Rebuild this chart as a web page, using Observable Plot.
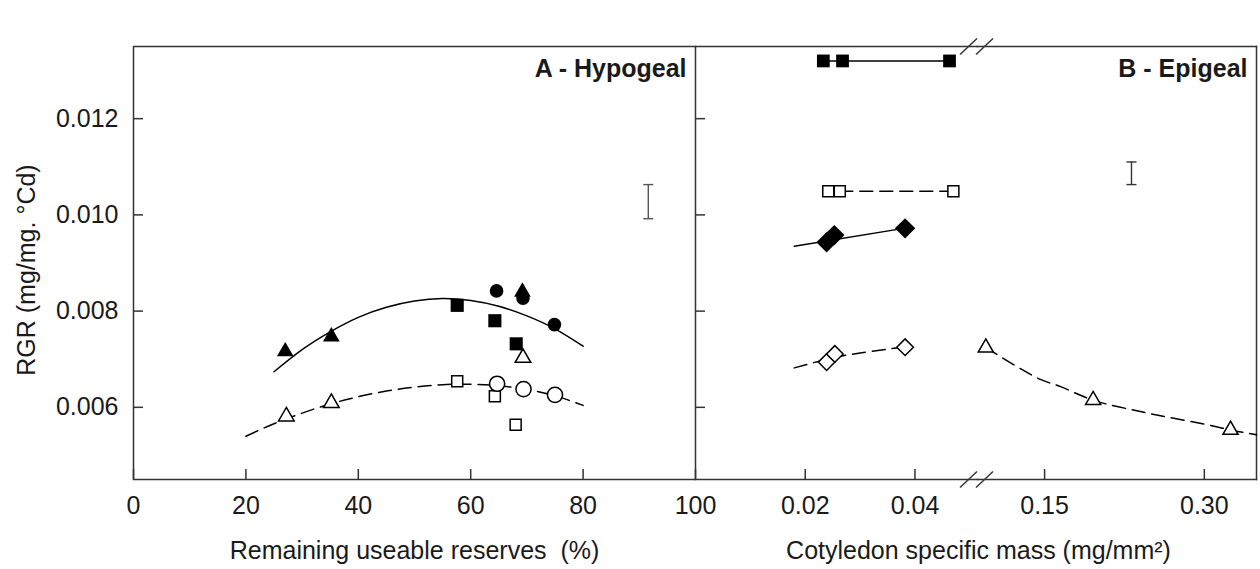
<!DOCTYPE html>
<html>
<head>
<meta charset="utf-8">
<script src="https://cdn.jsdelivr.net/npm/d3@7"></script>
<script src="https://cdn.jsdelivr.net/npm/@observablehq/plot@0.6"></script>
<style>
html, body { margin: 0; padding: 0; background: #fff; }
#chart { position: relative; width: 1260px; height: 569px; background: #fff; overflow: hidden; }
#chart svg { position: absolute; top: 0; }
</style>
</head>
<body>
<div id="chart"></div>
<script>
// ---------- scales / ticks ----------
const yDomain = [0.0045, 0.0135];
const yTicks = [0.006, 0.008, 0.010, 0.012];
const xDomainA = [0, 100];
const xTicksA = [0, 20, 40, 60, 80, 100];
const xDomainB1 = [0, 0.0514];
const xTicksB1 = [0.02, 0.04];
const xDomainB2 = [0.087, 0.349];
const xTicksB2 = [0.15, 0.30];

// ---------- labels ----------
const yTitle = "RGR (mg/mg. °Cd)";
const xTitleA = "Remaining useable reserves  (%)";
const xTitleB = "Cotyledon specific mass (mg/mm²)";
const panelA = "A - Hypogeal";
const panelB = "B - Epigeal";

// ---------- Panel A (hypogeal) ----------
const hypoFilledTriangles = [{x: 27.0, y: 0.00716}, {x: 35.2, y: 0.00747}, {x: 69.2, y: 0.00840}];
const hypoFilledSquares   = [{x: 57.6, y: 0.00812}, {x: 64.3, y: 0.00780}, {x: 68.1, y: 0.00732}];
const hypoFilledCircles   = [{x: 64.6, y: 0.00842}, {x: 69.3, y: 0.00827}, {x: 74.9, y: 0.00772}];
const hypoOpenTriangles   = [{x: 27.2, y: 0.00581}, {x: 35.2, y: 0.00609}, {x: 69.3, y: 0.00703}];
const hypoOpenSquares     = [{x: 57.6, y: 0.00654}, {x: 64.3, y: 0.00623}, {x: 68.0, y: 0.00564}];
const hypoOpenCircles     = [{x: 64.7, y: 0.00649}, {x: 69.4, y: 0.00638}, {x: 75.0, y: 0.00626}];

const hypoFitSolidX = [25, 30, 35, 40, 45, 50, 55, 60, 65, 70, 75, 80];
const hypoFitSolidY = [0.00674, 0.00720, 0.00757, 0.00787, 0.00808, 0.00821, 0.00826, 0.00822, 0.00810, 0.00790, 0.00763, 0.00727];
const hypoFitDashX = [20, 25, 30, 35, 40, 45, 50, 55, 60, 65, 70, 75, 80];
const hypoFitDashY = [0.00540, 0.00566, 0.00588, 0.00607, 0.00622, 0.00634, 0.00642, 0.00647, 0.00648, 0.00645, 0.00637, 0.00624, 0.00604];

const errA = [{x: 91.6, lo: 0.00992, hi: 0.01063}];

// ---------- Panel B (epigeal) ----------
const epiFilledSquares  = [{x: 0.0233, y: 0.0132}, {x: 0.0268, y: 0.0132}, {x: 0.0463, y: 0.0132}];
const epiFilledSquaresFitX = [0.0233, 0.0463];
const epiFilledSquaresFitY = [0.0132, 0.0132];
const epiOpenSquares    = [{x: 0.0242, y: 0.01049}, {x: 0.0263, y: 0.01049}, {x: 0.0470, y: 0.01049}];
const epiOpenSquaresFitX = [0.0263, 0.0470];
const epiOpenSquaresFitY = [0.01049, 0.01049];
const epiFilledDiamonds = [{x: 0.0239, y: 0.00943}, {x: 0.0253, y: 0.00958}, {x: 0.0382, y: 0.00972}];
const epiFilledDiamondsFitX = [0.0180, 0.0385];
const epiFilledDiamondsFitY = [0.00935, 0.00973];
const epiOpenDiamonds   = [{x: 0.0239, y: 0.00694}, {x: 0.0254, y: 0.00711}, {x: 0.0382, y: 0.00725}];
const epiOpenDiamondsFitX = [0.0180, 0.0240, 0.0300, 0.0392];
const epiOpenDiamondsFitY = [0.00682, 0.00700, 0.00713, 0.00727];
const epiOpenTriangles  = [{x: 0.0948, y: 0.00724}, {x: 0.1956, y: 0.00615}, {x: 0.3246, y: 0.00553}];
const epiTriFitX = [0.0948, 0.120, 0.146, 0.165, 0.1956, 0.230, 0.260, 0.300, 0.3246, 0.349];
const epiTriFitY = [0.00724, 0.00690, 0.00658, 0.00643, 0.00615, 0.00596, 0.00582, 0.00565, 0.00553, 0.00543];

const errB = [{x: 0.2316, lo: 0.01063, hi: 0.01110}];

// ---------- helpers ----------
const ink = "#1a1a1a";
const frameInk = "#333";
const FONT = "'Liberation Sans', Arial, Helvetica, sans-serif";
const zip = (xs, ys) => xs.map((x, i) => ({x, y: ys[i]}));
const capSymbol = {draw(ctx) { ctx.moveTo(-5, 0); ctx.lineTo(5, 0); }};
const slashSymbol = {draw(ctx) { ctx.moveTo(-8.5, 8); ctx.lineTo(8.5, -8); }};

const base = (width, marginLeft, marginRight) => ({
  width, height: 569,
  marginTop: 46, marginBottom: 90, marginLeft, marginRight,
  y: {domain: yDomain, axis: null},
  style: {background: "transparent", overflow: "visible", fontFamily: FONT, fontSize: "25px", color: ink}
});

const filled = (data, symbol, r) => Plot.dot(data, {x: "x", y: "y", symbol, r, fill: "black", stroke: "none"});
const open = (data, symbol, r) => Plot.dot(data, {x: "x", y: "y", symbol, r, fill: "white", stroke: "black", strokeWidth: 1.5});
const solid = (xs, ys) => Plot.line(zip(xs, ys), {x: "x", y: "y", stroke: "black", strokeWidth: 1.5, curve: "natural"});
const dashed = (xs, ys) => Plot.line(zip(xs, ys), {x: "x", y: "y", stroke: "black", strokeWidth: 1.5, strokeDasharray: "13,7", curve: "natural"});
const errorBar = (data, color) => [
  Plot.ruleX(data, {x: "x", y1: "lo", y2: "hi", stroke: color, strokeWidth: 1.4}),
  Plot.dot(data, {x: "x", y: "lo", symbol: capSymbol, fill: "none", stroke: color, strokeWidth: 1.4}),
  Plot.dot(data, {x: "x", y: "hi", symbol: capSymbol, fill: "none", stroke: color, strokeWidth: 1.4})
];

// ---------- Panel A ----------
const plotA = Plot.plot({
  ...base(695, 133, 0),
  x: {domain: xDomainA},
  marks: [
    Plot.frame({stroke: frameInk, strokeWidth: 1.5}),
    Plot.axisX({ticks: xTicksA, tickSize: -10, tickPadding: 27, fontSize: 25, label: null, stroke: frameInk, strokeWidth: 1.5, fill: ink}),
    Plot.axisY({ticks: yTicks, tickSize: -10, tickPadding: 25, tickFormat: ".3f", fontSize: 25, label: null, stroke: frameInk, strokeWidth: 1.5, fill: ink}),
    Plot.text([yTitle], {frameAnchor: "left", rotate: -90, textAnchor: "middle", lineAnchor: "middle", dx: -107, dy: 7, fontSize: 25, fill: ink}),
    Plot.text([xTitleA], {frameAnchor: "bottom", dy: 71, lineAnchor: "middle", textAnchor: "middle", fontSize: 25, fill: ink}),
    Plot.text([panelA], {frameAnchor: "top-right", dx: -9, dy: 22, lineAnchor: "middle", textAnchor: "end", fontSize: 25, fontWeight: "bold", fill: ink}),
    solid(hypoFitSolidX, hypoFitSolidY),
    dashed(hypoFitDashX, hypoFitDashY),
    ...errorBar(errA, "#555"),
    filled(hypoFilledSquares, "square", 7.4),
    filled(hypoFilledTriangles, "triangle", 6.2),
    filled(hypoFilledCircles, "circle", 6.8),
    open(hypoOpenTriangles, "triangle", 5.8),
    open(hypoOpenSquares, "square", 6.2),
    open(hypoOpenCircles, "circle", 7.6)
  ]
});

// ---------- Panel B, first segment ----------
const plotB1 = Plot.plot({
  ...base(282, 0, 0),
  x: {domain: xDomainB1},
  marks: [
    Plot.frame({anchor: "top", stroke: frameInk, strokeWidth: 1.5}),
    Plot.frame({anchor: "bottom", stroke: frameInk, strokeWidth: 1.5}),
    Plot.axisX({ticks: xTicksB1, tickSize: -10, tickPadding: 27, tickFormat: ".2f", fontSize: 25, label: null, stroke: frameInk, strokeWidth: 1.5, fill: ink}),
    Plot.axisY({ticks: yTicks, tickSize: -10, tickFormat: () => "", label: null, stroke: frameInk, strokeWidth: 1.5}),
    Plot.text([xTitleB], {frameAnchor: "bottom-left", dx: 283, dy: 71, lineAnchor: "middle", textAnchor: "middle", fontSize: 25, fill: ink}),
    Plot.dot(yDomain, {x: xDomainB1[1], y: d => d, dx: -9, symbol: slashSymbol, fill: "none", stroke: frameInk, strokeWidth: 1.4}),
    Plot.dot(yDomain, {x: xDomainB1[1], y: d => d, dx: 7, symbol: slashSymbol, fill: "none", stroke: frameInk, strokeWidth: 1.4}),
    solid(epiFilledSquaresFitX, epiFilledSquaresFitY),
    dashed(epiOpenSquaresFitX, epiOpenSquaresFitY),
    solid(epiFilledDiamondsFitX, epiFilledDiamondsFitY),
    dashed(epiOpenDiamondsFitX, epiOpenDiamondsFitY),
    filled(epiFilledSquares, "square", 7.2),
    open(epiOpenSquares, "square", 6.2),
    filled(epiFilledDiamonds, "diamond2", 9.2),
    open(epiOpenDiamonds, "diamond2", 7.5)
  ]
});

// ---------- Panel B, second segment ----------
const plotB2 = Plot.plot({
  ...base(283, 0, 4),
  x: {domain: xDomainB2},
  marks: [
    Plot.frame({anchor: "top", stroke: frameInk, strokeWidth: 1.5}),
    Plot.frame({anchor: "bottom", stroke: frameInk, strokeWidth: 1.5}),
    Plot.frame({anchor: "right", stroke: frameInk, strokeWidth: 1.5}),
    Plot.axisX({ticks: xTicksB2, tickSize: -10, tickPadding: 27, tickFormat: ".2f", fontSize: 25, label: null, stroke: frameInk, strokeWidth: 1.5, fill: ink}),
    Plot.text([panelB], {frameAnchor: "top-right", dx: -9, dy: 22, lineAnchor: "middle", textAnchor: "end", fontSize: 25, fontWeight: "bold", fill: ink}),
    dashed(epiTriFitX, epiTriFitY),
    ...errorBar(errB, "#333"),
    open(epiOpenTriangles, "triangle", 5.6)
  ]
});

const chart = document.getElementById("chart");
[[plotA, 0], [plotB1, 695], [plotB2, 977]].forEach(([svg, left]) => {
  svg.style.left = left + "px";
  svg.style.position = "absolute";
  svg.style.top = "0px";
  chart.appendChild(svg);
});
</script>
</body>
</html>
